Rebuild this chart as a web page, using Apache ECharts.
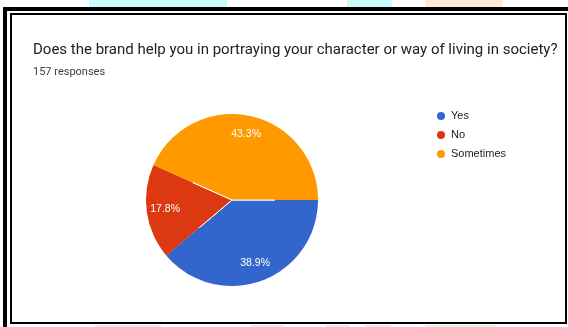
<!DOCTYPE html>
<html>
<head>
<meta charset="utf-8">
<script src="https://cdn.jsdelivr.net/npm/echarts@6/dist/echarts.min.js"></script>
<style>
  html, body { margin: 0; padding: 0; background: #ffffff; }
  #chart { width: 568px; height: 327px; }
</style>
</head>
<body>
<div id="chart"></div>
<script>
// Survey question and answers
const questionTitle = 'Does the brand help you in portraying your character or way of living in society?';
const responseCount = 157;
const categories = ['Yes', 'No', 'Sometimes'];
const answerCounts = [61, 28, 68];
const sliceColors = ['#3366cc', '#dc3912', '#ff9900'];

const total = answerCounts.reduce((a, b) => a + b, 0);
const pieData = categories.map((name, i) => ({
  name: name,
  value: answerCounts[i],
  itemStyle: { color: sliceColors[i] }
}));

const pieCenter = [232, 200];
const pieRadius = 86;

const chart = echarts.init(document.getElementById('chart'), null, { renderer: 'canvas' });

chart.setOption({
  animation: false,
  backgroundColor: '#ffffff',
  title: [
    {
      text: questionTitle,
      left: 33,
      top: 43,
      padding: 0,
      textStyle: { fontFamily: 'Roboto', fontSize: 15, fontWeight: 'normal', color: '#202124' }
    },
    {
      text: responseCount + ' responses',
      left: 33,
      top: 67,
      padding: 0,
      textStyle: { fontFamily: 'Roboto', fontSize: 11, fontWeight: 'normal', color: '#3c4043' }
    }
  ],
  legend: {
    orient: 'vertical',
    left: 435,
    top: 110,
    padding: 0,
    icon: 'circle',
    itemWidth: 10,
    itemHeight: 10,
    itemGap: 7,
    data: categories,
    textStyle: { fontFamily: 'Arial', fontSize: 11, color: '#222222' }
  },
  graphic: [
    // faint strips along the outer edges
    { type: 'rect', shape: { x: 89, y: 0, width: 138, height: 7 }, style: { fill: '#ccfcfc' }, silent: true },
    { type: 'rect', shape: { x: 347, y: 0, width: 45, height: 7 }, style: { fill: '#ccfcfc' }, silent: true },
    { type: 'rect', shape: { x: 425, y: 0, width: 78, height: 7 }, style: { fill: '#feebd9' }, silent: true },
    { type: 'rect', shape: { x: 95, y: 325, width: 66, height: 2 }, style: { fill: '#fbe3e3' }, silent: true },
    { type: 'rect', shape: { x: 251, y: 325, width: 33, height: 2 }, style: { fill: '#fbe3e3' }, silent: true },
    { type: 'rect', shape: { x: 326, y: 325, width: 24, height: 2 }, style: { fill: '#fbe3e3' }, silent: true },
    { type: 'rect', shape: { x: 365, y: 325, width: 26, height: 2 }, style: { fill: '#fbe3e3' }, silent: true },
    { type: 'rect', shape: { x: 425, y: 325, width: 71, height: 2 }, style: { fill: '#e4f4dc' }, silent: true },
    // double black frame
    { type: 'rect', shape: { x: 3, y: 7, width: 565, height: 4 }, style: { fill: '#000000' }, silent: true },
    { type: 'rect', shape: { x: 3, y: 7, width: 4, height: 320 }, style: { fill: '#000000' }, silent: true },
    { type: 'rect', shape: { x: 11, y: 14, width: 555, height: 309 }, style: { fill: 'none', stroke: '#000000', lineWidth: 2 }, silent: true }
  ],
  series: [
    {
      name: 'answers',
      type: 'pie',
      center: pieCenter,
      radius: pieRadius,
      startAngle: 0,
      clockwise: true,
      avoidLabelOverlap: false,
      label: { show: false },
      labelLine: { show: false },
      itemStyle: { borderColor: '#ffffff', borderWidth: 1 },
      emphasis: { disabled: true },
      data: pieData
    },
    {
      // transparent ring that carries the percentage labels
      name: 'percent labels',
      type: 'pie',
      center: pieCenter,
      radius: [pieRadius * 0.5, pieRadius],
      startAngle: 0,
      clockwise: true,
      silent: true,
      avoidLabelOverlap: false,
      itemStyle: { color: 'rgba(0,0,0,0)', borderWidth: 0 },
      labelLine: { show: false },
      emphasis: { disabled: true },
      label: {
        show: true,
        position: 'inside',
        color: '#ffffff',
        fontFamily: 'Arial',
        fontSize: 10.5,
        formatter: p => (p.value / total * 100).toFixed(1) + '%'
      },
      data: pieData
    }
  ]
});
</script>
</body>
</html>
